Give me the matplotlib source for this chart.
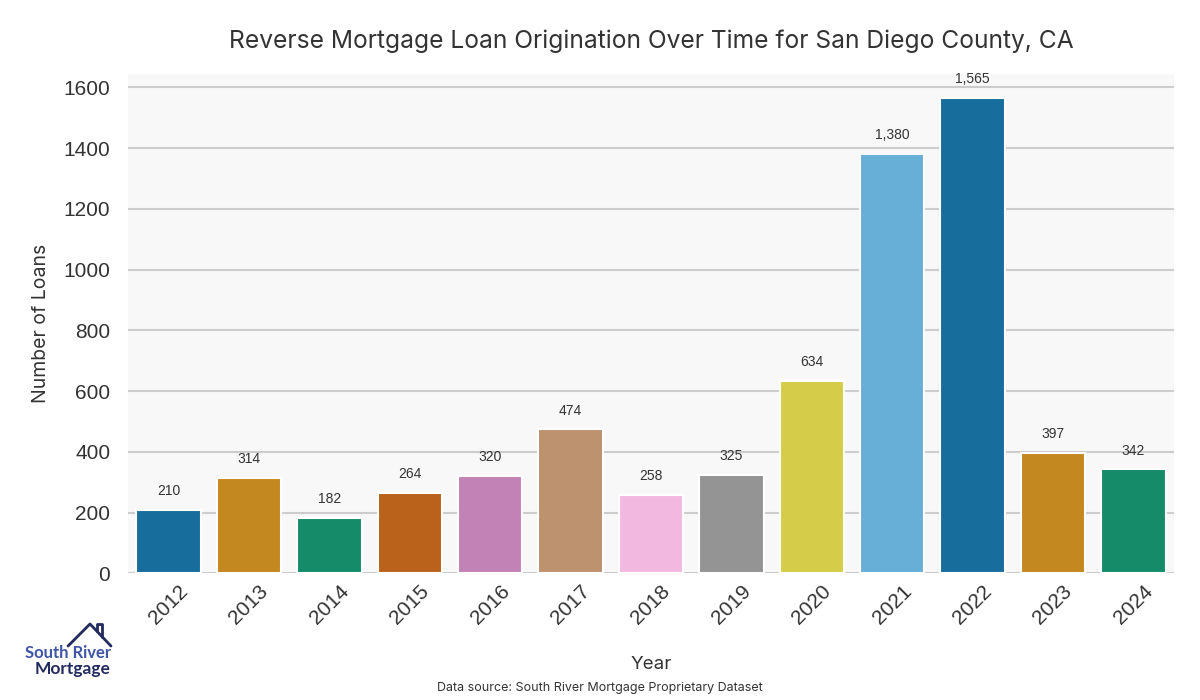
import matplotlib
matplotlib.use("Agg")
import matplotlib.pyplot as plt
import seaborn as sns
from matplotlib.lines import Line2D

years = ["2012", "2013", "2014", "2015", "2016", "2017", "2018",
         "2019", "2020", "2021", "2022", "2023", "2024"]
loans = [210, 314, 182, 264, 320, 474, 258, 325, 634, 1380, 1565, 397, 342]

titleFont = "Inter"
tickFont = "Liberation Sans"
textColor = "#333333"

sns.set_style("whitegrid")
fig = plt.figure(figsize=(12, 7), dpi=100)
ax = fig.add_axes([0.107, 0.181, 0.871, 0.713])
ax.set_facecolor("#f8f8f8")

palette = sns.color_palette("colorblind", len(years))
sns.barplot(x=years, y=loans, hue=years, palette=palette, legend=False,
            edgecolor="white", linewidth=1.5, ax=ax)

# value labels above each bar
for i, v in enumerate(loans):
    ax.annotate(f"{v:,}", (i, v), xytext=(0, 8.5), textcoords="offset points",
                ha="center", va="bottom", fontsize=10, color=textColor,
                family=tickFont)

ax.set_ylim(0, max(loans) * 1.05)
ax.set_xlim(-0.5, len(years) - 0.5)
ax.grid(axis="y", color="#cccccc", linewidth=1.5)
ax.grid(axis="x", visible=False)
for s in ax.spines.values():
    s.set_visible(False)
ax.tick_params(axis="both", length=0, labelsize=15, labelcolor=textColor)
ax.tick_params(axis="y", pad=13)
ax.tick_params(axis="x", pad=6)
for lab in ax.get_xticklabels() + ax.get_yticklabels():
    lab.set_family(tickFont)
plt.setp(ax.get_xticklabels(), rotation=45)

ax.set_title("Reverse Mortgage Loan Origination Over Time for San Diego County, CA",
             fontsize=17.7, family=titleFont, color=textColor, pad=19)
ax.set_xlabel("Year", fontsize=13.5, family=titleFont, color=textColor, labelpad=20)
ax.set_ylabel("Number of Loans", fontsize=14, family=titleFont, color=textColor,
              labelpad=10)

fig.text(0.5, 0.017, "Data source: South River Mortgage Proprietary Dataset",
         ha="center", va="center", fontsize=9, family=titleFont, color=textColor)

# logo in the lower left corner
navy = "#222a5e"
fig.add_artist(Line2D([0.0567, 0.075, 0.0925], [0.0771, 0.1086, 0.0771],
                      transform=fig.transFigure, color=navy, linewidth=2))
fig.add_artist(Line2D([0.0808, 0.0808, 0.085, 0.085], [0.0986, 0.1086, 0.1086, 0.0905],
                      transform=fig.transFigure, color=navy, linewidth=2))
fig.text(0.0925, 0.067, "South River", ha="right", va="center", fontsize=12,
         fontweight="bold", family="Lato", color="#3f55a5")
fig.text(0.0925, 0.044, "Mortgage", ha="right", va="center", fontsize=12.5,
         fontweight="bold", family="Lato", color=navy)

fig.savefig("out.png", dpi=100)
